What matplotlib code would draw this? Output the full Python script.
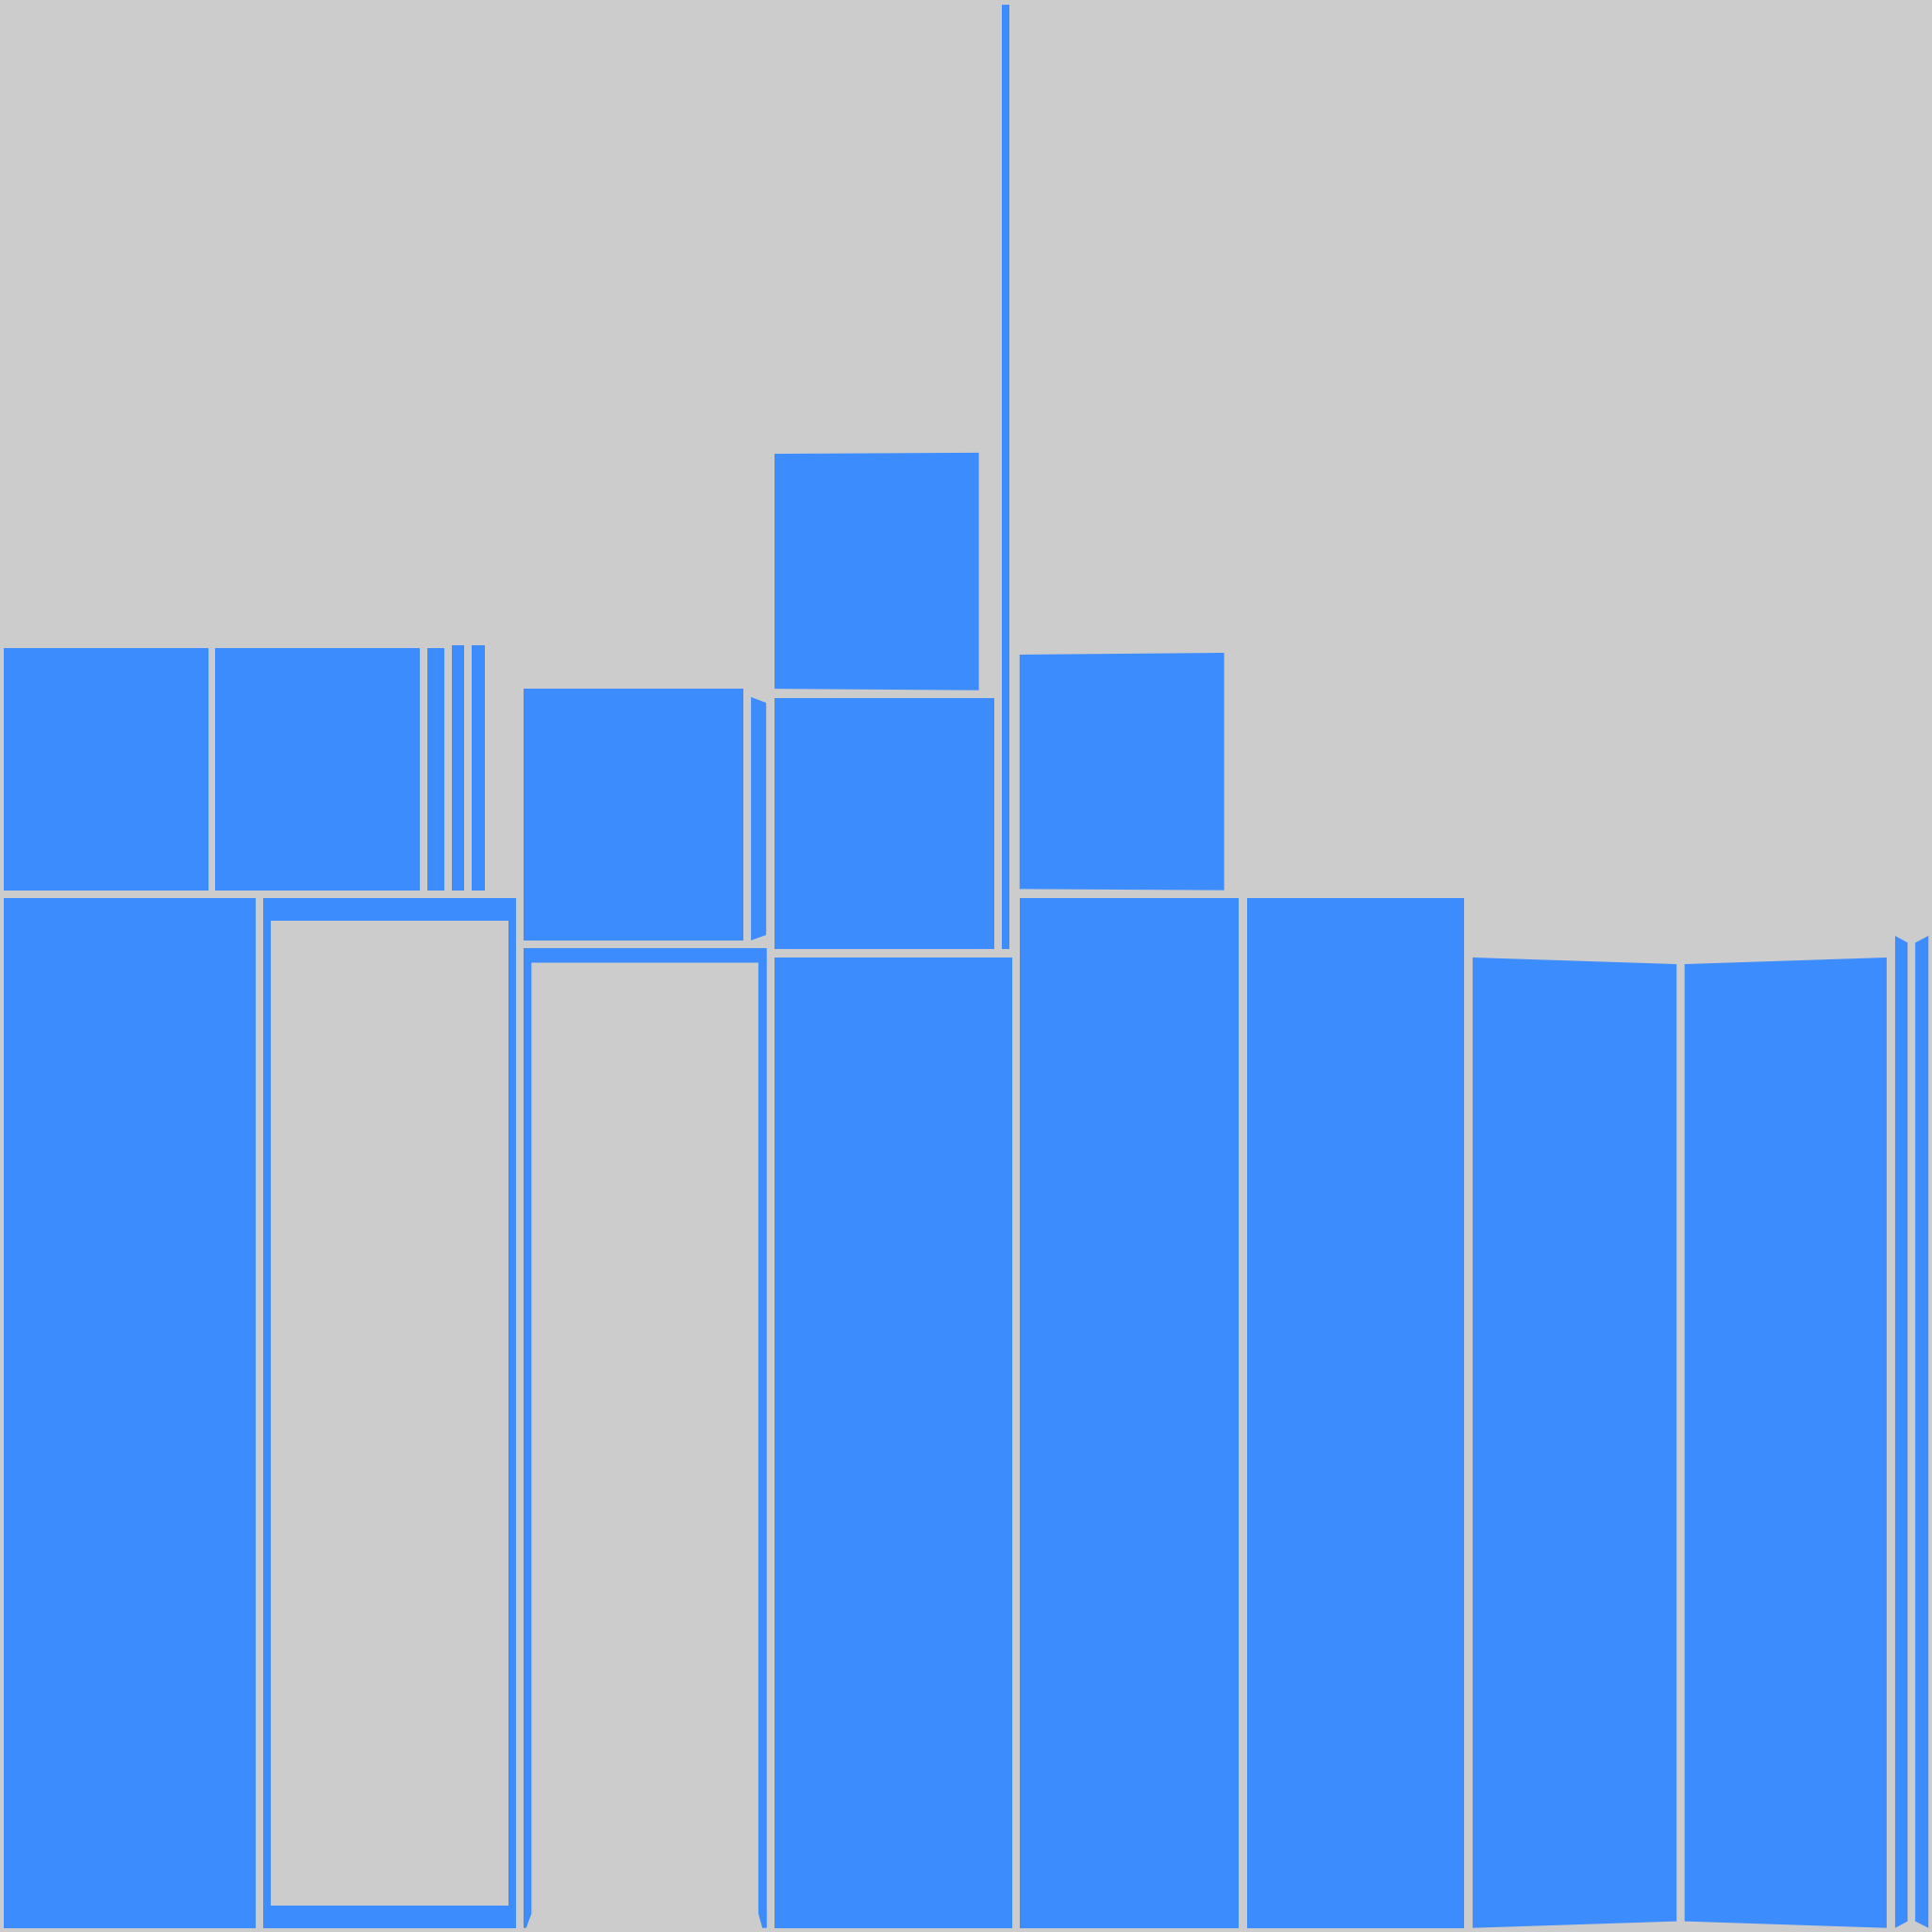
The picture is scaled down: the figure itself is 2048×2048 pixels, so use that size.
import matplotlib
matplotlib.use("Agg")
import matplotlib.pyplot as plt

BG = "#cccccc"
BLUE = "#3d8cfe"

# Plain rectangular blocks (canvas units, 0..1568, y downward)
rect_x0 = [3.0, 174.5, 346.7, 366.7, 382.8, 3.0, 424.9, 628.6, 813.2, 628.5, 827.5, 1012.3]
rect_x1 = [169.0, 340.4, 360.4, 376.5, 393.2, 207.3, 603.0, 806.7, 819.0, 821.8, 1005.5, 1188.3]
rect_top = [526.0, 526.0, 526.0, 524.0, 524.0, 729.0, 559.0, 566.6, 3.5, 777.3, 729.0, 729.0]
rect_bot = [722.5, 722.5, 722.5, 722.5, 722.5, 1564.7, 763.2, 770.5, 770.5, 1564.7, 1564.7, 1564.7]

# Framed block with hole
frame_outer = [213.7, 418.5, 729.0, 1564.7]
frame_hole = [219.8, 412.4, 747.0, 1546.4]

# Irregular blocks (vertex lists)
poly_x = [
    [424.9, 424.9, 622.3, 622.3, 618.7, 615.5, 615.5, 431.3, 431.3, 427.1],
    [609.5, 621.8, 621.8, 609.5],
    [628.6, 794.4, 794.4, 628.6],
    [827.5, 993.5, 993.5, 827.5],
    [1195.2, 1360.7, 1360.7, 1195.2],
    [1367.2, 1531.2, 1531.2, 1367.2],
    [1538.1, 1548.2, 1548.2, 1538.1],
    [1554.4, 1565.1, 1565.1, 1554.4],
]
poly_y = [
    [1564.7, 769.5, 769.5, 1564.7, 1564.7, 1553.0, 781.3, 781.3, 1553.0, 1564.7],
    [565.7, 570.4, 758.8, 763.2],
    [368.3, 367.4, 560.2, 559.0],
    [531.3, 529.8, 722.5, 721.5],
    [777.1, 782.5, 1559.3, 1564.7],
    [782.5, 777.1, 1564.7, 1559.3],
    [759.5, 765.1, 1559.3, 1564.7],
    [765.1, 759.5, 1564.7, 1559.3],
]

fig = plt.figure(figsize=(20.48, 20.48), dpi=100, facecolor=BG)
ax = fig.add_axes([0, 0, 1, 1])
ax.set_facecolor(BG)
ax.set_xlim(0, 1568)
ax.set_ylim(1568, 0)
ax.axis("off")

widths = [b - a for a, b in zip(rect_x0, rect_x1)]
heights = [b - t for t, b in zip(rect_top, rect_bot)]
ax.bar(rect_x0, heights, width=widths, bottom=rect_top, align="edge",
       color=BLUE, linewidth=0)

ax.bar([frame_outer[0]], [frame_outer[3] - frame_outer[2]],
       width=[frame_outer[1] - frame_outer[0]], bottom=[frame_outer[2]],
       align="edge", color=BLUE, linewidth=0)
ax.bar([frame_hole[0]], [frame_hole[3] - frame_hole[2]],
       width=[frame_hole[1] - frame_hole[0]], bottom=[frame_hole[2]],
       align="edge", color=BG, linewidth=0)

for xs, ys in zip(poly_x, poly_y):
    ax.fill(xs, ys, color=BLUE, linewidth=0)

fig.savefig("out.png", dpi=100, facecolor=BG)
